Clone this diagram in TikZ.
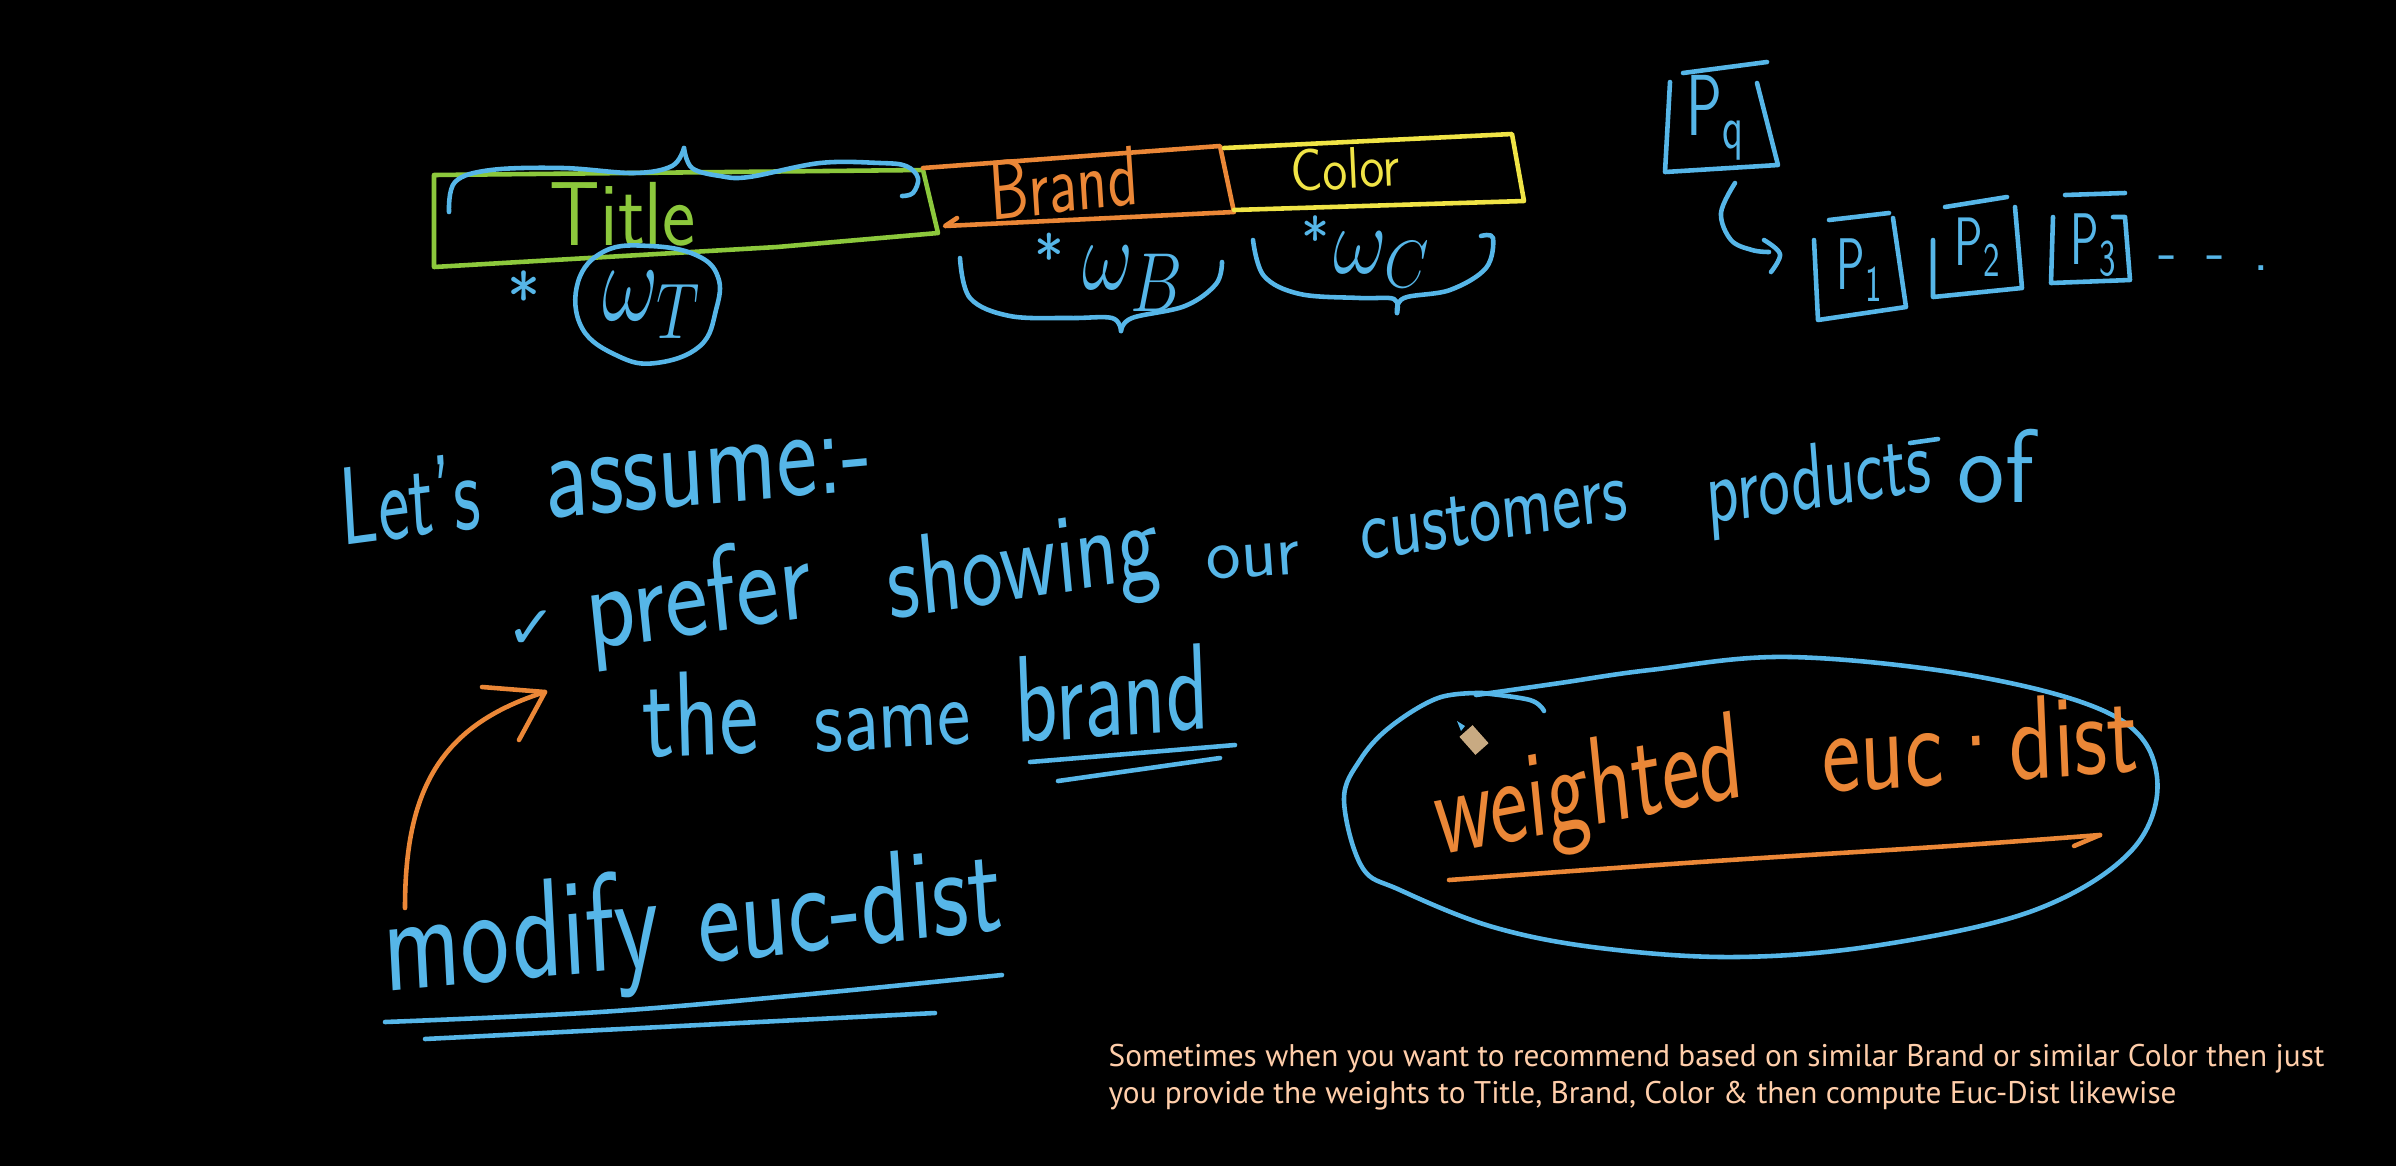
\documentclass[tikz,border=0pt]{standalone}
\usepackage{fontspec}
\newfontfamily\capfont{PT Sans}
\newfontfamily\symfont{DejaVu Sans}
\definecolor{hblue}{RGB}{86,182,232}
\definecolor{hgreen}{RGB}{140,200,60}
\definecolor{horange}{RGB}{235,135,55}
\definecolor{hyellow}{RGB}{240,228,70}
\definecolor{peach}{RGB}{255,206,170}
\definecolor{pencilbody}{RGB}{200,170,130}
\begin{document}
\begin{tikzpicture}[x=0.01cm,y=-0.01cm,line cap=round,line join=round,
  pen/.style={line width=1.3pt},
  hw/.style={inner sep=0pt,anchor=base west},
  fs/.style={font={\fontsize{#1}{#1}\selectfont\sffamily}},
  fm/.style={font={\fontsize{#1}{#1}\selectfont}},
  capt/.style={inner sep=0pt,anchor=base west,text=peach,font={\fontsize{8.9pt}{10pt}\selectfont\capfont}}]
\fill[black] (0,0) rectangle (2396,1166);
\useasboundingbox (0,0) rectangle (2396,1166);

% ---------- top: feature strip ----------
\draw[pen,hgreen] (434,175) -- (923,170) -- (938,233) -- (777,247) -- (434,267) -- cycle;
\draw[pen,horange] (923,168) -- (1220,146) -- (1234,212) -- (945,226) -- (957,218);
\draw[pen,hyellow] (1224,148) -- (1512,134) -- (1524,201) -- (1234,210);
\node[hw,text=hgreen,fs=22.5pt,yscale=1.15] (title) at (549,245) {Title};
\node[hw,text=horange,fs=17.8pt,yscale=1.35,rotate=5] (brand) at (991,221) {Brand};
\node[hw,text=hyellow,fs=14.5pt,yscale=1.15,rotate=3] (color) at (1291,192) {Color};

% brace over Title
\draw[pen,hblue] plot[smooth,tension=0.6] coordinates {(449,212) (455,182) (491,170) (563,168) (634,173) (672,166) (684,148)};
\draw[pen,hblue] plot[smooth,tension=0.6] coordinates {(684,148) (692,168) (720,176) (749,177) (820,163) (880,163) (906,166) (918,178) (913,193) (902,196)};

% weights
\node[hw,anchor=base,text=hblue,fs=20pt] (starT) at (524,323) {*};
\draw[pen,hblue] plot[smooth cycle,tension=0.7] coordinates {(605,251) (578,282) (582,328) (618,356) (656,363) (700,346) (716,310) (718,277) (696,255) (650,246)};
\node[anchor=center,inner sep=0pt,text=hblue,fm=27pt,yscale=1.3] (wT) at (652,305) {$\omega_{T}$};

\node[hw,anchor=base,text=hblue,fs=18pt] (starB) at (1049,280) {*};
\node[hw,text=hblue,fm=28pt,xscale=0.9,yscale=1.15] (wB) at (1082,289) {$\omega_{B}$};
\draw[pen,hblue] plot[smooth,tension=0.6] coordinates {(960,258) (970,298) (1010,316) (1070,318) (1112,318) (1121,331)};
\draw[pen,hblue] plot[smooth,tension=0.6] coordinates {(1121,331) (1132,318) (1185,306) (1216,284) (1222,262)};

\node[hw,anchor=base,text=hblue,fs=17pt] (starC) at (1316,260) {*};
\node[hw,text=hblue,fm=25pt,xscale=0.95,yscale=1.1] (wC) at (1333,273) {$\omega_{C}$};
\draw[pen,hblue] plot[smooth,tension=0.6] coordinates {(1253,240) (1264,276) (1300,294) (1360,298) (1394,299) (1397,313)};
\draw[pen,hblue] plot[smooth,tension=0.6] coordinates {(1397,313) (1404,298) (1450,290) (1486,268) (1493,238) (1481,236)};

% ---------- products ----------
\draw[pen,hblue] (1683,73) -- (1767,62);
\draw[pen,hblue] (1670,82) -- (1665,172) -- (1778,165) -- (1757,83);
\node[anchor=center,inner sep=0pt,text=hblue,fm=17pt,yscale=1.45] (pq) at (1716,118) {$\mathsf{P}_{\mathsf{q}}$};
\draw[pen,hblue] plot[smooth,tension=0.6] coordinates {(1735,183) (1721,213) (1731,240) (1752,250) (1769,252)};
\draw[pen,hblue] plot[smooth,tension=0.6] coordinates {(1764,240) (1780,254) (1771,272)};

\draw[pen,hblue] (1829,220) -- (1889,213);
\draw[pen,hblue] (1814,240) -- (1818,320) -- (1906,307) -- (1893,218);
\node[anchor=center,inner sep=0pt,text=hblue,fm=13pt,yscale=1.6] (p1) at (1860,270) {$\mathsf{P}_{\mathsf{1}}$};

\draw[pen,hblue] (1945,207) -- (2007,197);
\draw[pen,hblue] (1933,240) -- (1933,297) -- (2022,288) -- (2015,207);
\node[anchor=center,inner sep=0pt,text=hblue,fm=13pt,yscale=1.5] (p2) at (1978,247) {$\mathsf{P}_{\mathsf{2}}$};

\draw[pen,hblue] (2065,195) -- (2125,193);
\draw[pen,hblue] (2053,217) -- (2051,283) -- (2130,280) -- (2125,217) -- (2113,217);
\node[anchor=center,inner sep=0pt,text=hblue,fm=13pt,yscale=1.6] (p3) at (2094,245) {$\mathsf{P}_{\mathsf{3}}$};

\node[hw,text=hblue,fs=17pt] (dots) at (2158,270) {-\, -\, .};

% ---------- let's assume ----------
\node[hw,text=hblue,fs=21pt,yscale=1.5,rotate=5] (lets) at (342,546) {Let's};
\node[hw,text=hblue,fs=27.5pt,yscale=1.3,rotate=4] (assume) at (546,519) {assume:-};

\node[hw,text=hblue,font={\fontsize{17pt}{17pt}\selectfont\symfont}] (check) at (506,648) {✓};
\node[hw,text=hblue,fs=29pt,yscale=1.2,rotate=7] (prefer) at (589,650) {prefer};
\node[hw,text=hblue,fs=25pt,yscale=1.3,rotate=7] (showing) at (890,620) {showing};
\node[hw,text=hblue,fs=21pt,rotate=4] (our) at (1207,580) {our};
\node[hw,text=hblue,fs=19.5pt,yscale=1.3,rotate=7] (customers) at (1362,561) {customers};
\node[hw,text=hblue,fs=19pt,yscale=1.4,rotate=6] (products) at (1708,524) {products};
\draw[pen,hblue] (1910,443) -- (1938,439);
\node[hw,text=hblue,fs=22pt,xscale=1.3,yscale=1.35] (of) at (1957,502) {of};

\node[hw,text=hblue,fs=26.5pt,yscale=1.3,rotate=2] (the) at (643,758) {the};
\node[hw,text=hblue,fs=22.5pt,yscale=1.2,rotate=3] (same) at (815,753) {same};
\node[hw,text=hblue,fs=25pt,yscale=1.4,rotate=3] (brandw) at (1016,743) {brand};
\draw[pen,hblue] (1030,762) -- (1235,745);
\draw[pen,hblue] (1058,781) -- (1220,758);

% ---------- modify euc-dist ----------
\node[hw,text=hblue,fs=29.5pt,yscale=1.35,rotate=4] (modify) at (385,992) {modify};
\node[hw,text=hblue,fs=28.5pt,yscale=1.3,rotate=5] (eucd) at (700,964) {euc-dist};
\draw[pen,hblue] plot[smooth,tension=0.6] coordinates {(385,1022) (600,1012) (800,995) (1002,975)};
\draw[pen,hblue] (425,1039) -- (935,1013);

\coordinate (arrS) at (405,908);
\coordinate (arrT) at (545,692);
\draw[pen,horange] (arrS) .. controls (405,790) and (440,725) .. (arrT);
\draw[pen,horange] (482,687) -- (arrT) -- (519,740);

% ---------- weighted euc dist ----------
\draw[pen,hblue] plot[smooth,tension=0.6] coordinates {(1476,695) (1560,683) (1650,670) (1791,657) (1980,677) (2116,717) (2157,777) (2132,850) (2035,910) (1880,945) (1736,957) (1600,948) (1493,927) (1400,890) (1362,867) (1344,800) (1360,760) (1390,727) (1438,698) (1482,693)};
\draw[pen,hblue] plot[smooth,tension=0.6] coordinates {(1482,693) (1530,700) (1544,711)};
\node[hw,text=horange,fs=25.5pt,yscale=1.4,rotate=8] (weighted) at (1438,856) {weighted};
\node[hw,text=horange,fs=26pt,yscale=1.3,rotate=3] (eucdot) at (1823,793) {euc·dist};
\draw[pen,horange] plot[smooth,tension=0.6] coordinates {(1449,880) (1700,862) (1950,846) (2100,835)};
\draw[pen,horange] (2100,835) -- (2074,846);

% pencil cursor
\draw[line width=5pt,pencilbody,line cap=butt] (1466,731) -- (1482,749);
\fill[hblue] (1457,721) -- (1465,726) -- (1461,731) -- cycle;

% ---------- caption ----------
\node[capt] (cap1) at (1108,1066) {Sometimes when you want to recommend based on similar Brand or similar Color then just};
\node[capt] (cap2) at (1108,1103) {you provide the weights to Title, Brand, Color \& then compute Euc-Dist likewise};
\end{tikzpicture}
\end{document}
